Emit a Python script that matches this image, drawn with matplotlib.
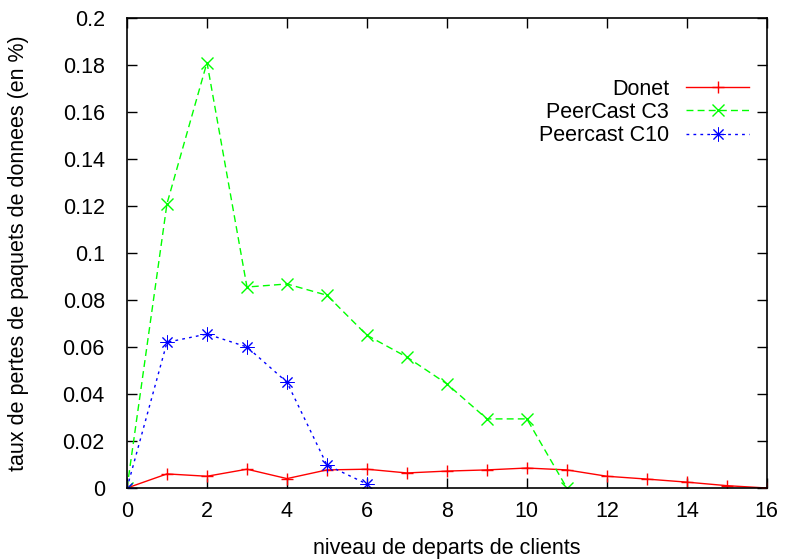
import matplotlib.pyplot as plt
from matplotlib.ticker import FuncFormatter

plt.rcParams['font.family'] = ['Liberation Sans', 'DejaVu Sans']

# ---- データ ----
x_donet = list(range(0, 17))
donet = [0, 0.006, 0.005, 0.008, 0.004, 0.0077, 0.008, 0.0064, 0.0072,
         0.0077, 0.0085, 0.0077, 0.005, 0.0038, 0.0025, 0.001, 0]

x_c3 = list(range(0, 12))
peercast_c3 = [0, 0.121, 0.181, 0.0855, 0.0868, 0.082, 0.065, 0.0557,
               0.0443, 0.0294, 0.0294, 0.0]

x_c10 = list(range(0, 7))
peercast_c10 = [0, 0.062, 0.0655, 0.060, 0.045, 0.0098, 0.0017]

xticks = list(range(0, 17, 2))
yticks = [0, 0.02, 0.04, 0.06, 0.08, 0.1, 0.12, 0.14, 0.16, 0.18, 0.2]

# ---- グラフ描画 ----
fs = 15.5
fig = plt.figure(figsize=(7.85, 5.59), dpi=100)
ax = fig.add_axes([0.1618, 0.127, 0.815, 0.841])

ax.plot(x_donet, donet, color='#ff0000', lw=1, ls='-', marker='+',
        ms=9, mew=1, label='Donet')
ax.plot(x_c3, peercast_c3, color='#00ff00', lw=1, ls=(0, (5, 3)), marker='x',
        ms=8, mew=1, label='PeerCast C3')
ax.plot(x_c10, peercast_c10, color='#0000ff', lw=1, ls=(0, (2, 3)),
        marker=(8, 2, 0), ms=10, mew=0.7, label='Peercast C10')

ax.set_xlim(0, 16)
ax.set_ylim(0, 0.2)
ax.set_xticks(xticks)
ax.set_yticks(yticks)
ax.yaxis.set_major_formatter(FuncFormatter(lambda v, p: '%g' % round(v, 4)))
ax.tick_params(direction='in', top=True, right=True, length=7, width=1,
               labelsize=fs)
ax.tick_params(axis='y', pad=16)
ax.tick_params(axis='x', pad=9)
for s in ax.spines.values():
    s.set_linewidth(1.2)

ax.set_xlabel('niveau de departs de clients', fontsize=fs, labelpad=12)
ax.set_ylabel('taux de pertes de paquets de donnees (en %)', fontsize=fs, labelpad=24)

ax.legend(loc='upper right', bbox_to_anchor=(0.992, 0.898), frameon=False,
          markerfirst=False, fontsize=fs, handlelength=2.9, labelspacing=0.1,
          handletextpad=0.8, borderaxespad=0.2)

fig.savefig('out.png', dpi=100)
